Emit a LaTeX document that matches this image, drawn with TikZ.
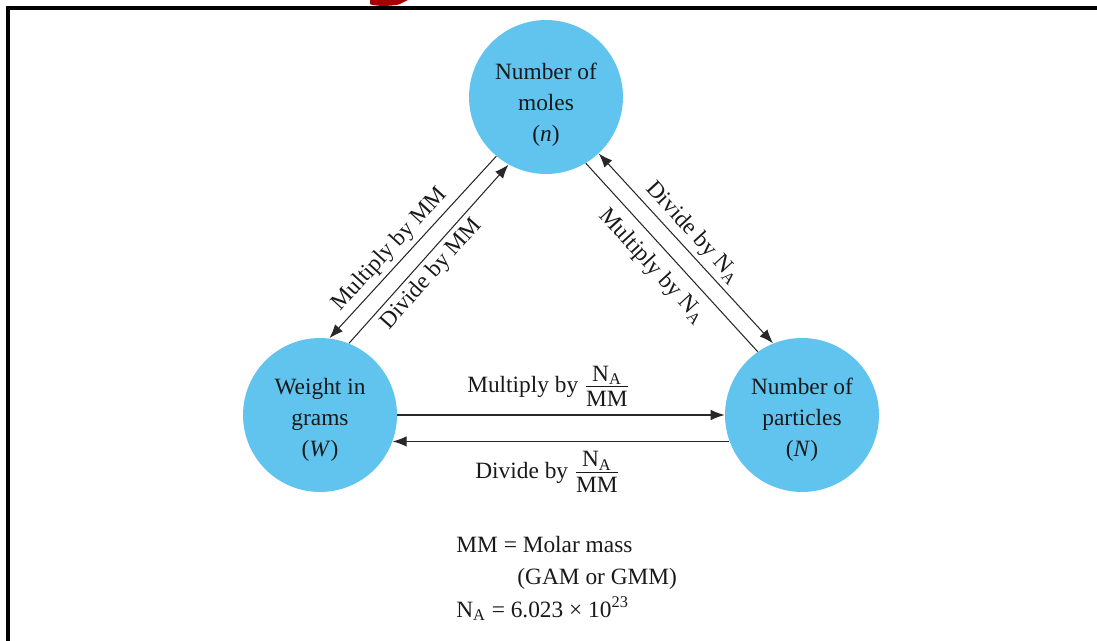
\documentclass[tikz,border=0pt]{standalone}
\usepackage{amsmath}
\usepackage{fontspec}
\setmainfont{Liberation Serif}
\usetikzlibrary{arrows.meta}
\definecolor{ballblue}{RGB}{96,196,238}
\definecolor{inkgray}{RGB}{40,40,40}
\newcommand{\nafrac}{$\frac{\textstyle\text{N}_{\text{A}}}{\textstyle\rule{0pt}{0.8em}\text{MM}}$}
\newcommand{\padtop}[1]{\rule{0pt}{#1}}

\begin{document}
\begin{tikzpicture}[x=0.02cm, y=-0.02cm,
    >={Latex[length=0.28cm,width=0.21cm]},
    every node/.style={font=\fontsize{13.3}{17.6}\selectfont, text=black!90},
    ball/.style={circle, fill=ballblue, minimum size=3.08cm, inner sep=0pt, align=center},
    conv/.style={line width=0.6pt, draw=inkgray, ->},
    tag/.style={sloped, inner sep=2.5pt}]
    \useasboundingbox (0,0) rectangle (1097,641);
    \draw[line width=0.08cm] (1097,8.5) -- (8,8.5) -- (8,641);
    \fill[red!65!black] (370,0) -- (370,4) .. controls (373,6.5) and (394,6.5) .. (400,4)
          .. controls (404,2.5) .. (408,0) -- cycle;

    \node[ball] (moles) at (546,97) {\padtop{18pt}Number of\\moles\\(\textit{n})};
    \node[ball] (weight) at (320,415) {\padtop{14.5pt}Weight in\\grams\\(\textit{W})};
    \node[ball] (particles) at (802,415) {\padtop{14.5pt}Number of\\particles\\(\textit{N})};

    \draw[conv] (moles.230) -- node[tag, pos=0.57, above] {Multiply by MM} (weight.83);
    \draw[conv] (weight.68) -- node[tag, pos=0.445, below] {Divide by MM} (moles.241);
    \draw[conv, <->] (moles.313) -- node[tag, pos=0.474, above] {Divide by N\textsubscript{A}} (particles.112);
    \draw[conv, -] (moles.301) -- node[tag, pos=0.475, below=3pt] {Multiply by N\textsubscript{A}} (particles.125);
    \draw[conv] (weight.0) -- node[pos=0.462, above, inner sep=4.5pt] {Multiply by \nafrac} (particles.180);
    \draw[conv] (particles.200) -- node[pos=0.54, below, inner sep=5.5pt] {Divide by \nafrac} (weight.340);

    \node[anchor=base west, inner sep=0pt] (mmdef) at (456,552) {MM = Molar mass};
    \node[anchor=base west, inner sep=0pt] (mmgam) at (517,584) {(GAM or GMM)};
    \node[anchor=base west, inner sep=0pt] (nadef) at (456,617) {N\textsubscript{A} = 6.023 × 10\textsuperscript{23}};
\end{tikzpicture}
\end{document}
